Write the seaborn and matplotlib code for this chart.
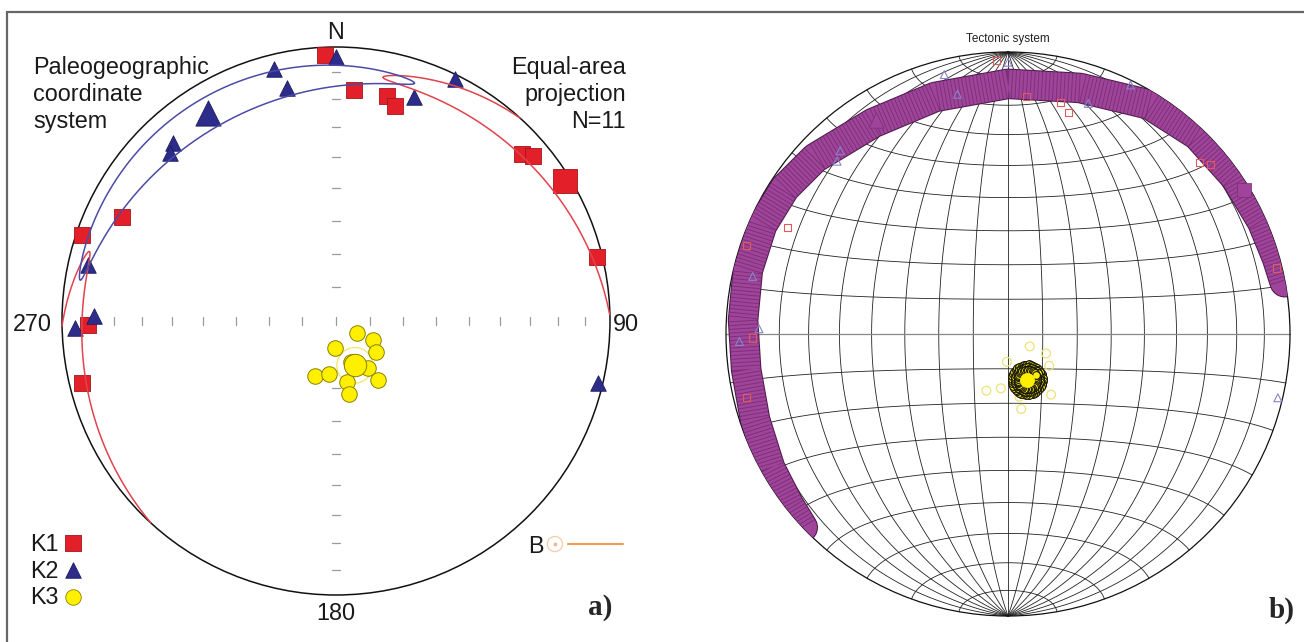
# AMS stereoplots: (a) equal-area net with confidence ellipses, (b) bootstrap on a Schmidt net
import numpy as np
import pandas as pd
import seaborn as sns
import matplotlib.pyplot as plt
import matplotlib.patheffects as pe
from matplotlib.lines import Line2D
from matplotlib.patches import Circle

# principal susceptibility axes of the 11 specimens, trend / plunge in degrees
k1_trend = [357.6, 4.5, 12.8, 15.3, 48.1, 50.1, 76.2, 295.9, 288.7, 269.1, 256.3]
k1_plunge = [3.2, 16.5, 16.9, 19.7, 9.7, 7.0, 2.1, 14.3, 2.4, 10.4, 5.2]
k2_trend = [0.0, 346.2, 348.1, 19.2, 26.2, 317.5, 315.3, 282.7, 271.2, 268.4, 103.3]
k2_plunge = [4.1, 5.9, 14.2, 14.5, 1.8, 12.9, 14.9, 8.0, 12.7, 5.3, 1.9]
k3_trend = [119.7, 182.3, 117.1, 127.7, 145.8, 200.9, 187.5, 169.8, 144.6, 170.0, 160.0]
k3_plunge = [82.8, 82.0, 77.7, 75.0, 73.1, 72.5, 74.2, 71.6, 68.5, 68.0, 77.0]

# mean tensor axes K1, K2, K3
mean_trend = [58.6, 328.4, 157.0]
mean_plunge = [2.3, 11.9, 75.7]

# 95% confidence ellipses (long, short semi-axis, degrees)
conf_axes = [(48, 6), (49, 6), (5.3, 5.3)]

# bootstrap K1/K2 girdle in panel b, centre line
girdle_trend = [226.7, 232.0, 240.6, 251.2, 262.2, 273.0, 283.8, 293.9, 303.2, 312.4,
                327.4, 342.9, 0.0, 16.3, 31.6, 43.6, 55.5, 66.2, 74.2, 79.4]
girdle_plunge = [0.0, 1.7, 3.6, 5.9, 7.0, 6.6, 5.6, 5.2, 6.1, 8.2,
                 12.2, 13.1, 12.3, 10.0, 5.0, 3.0, 2.4, 1.7, 1.0, 0.2]
# bootstrap K3 cones (degrees)
k3_boot_radii = [4.4, 3.6, 2.8]

RED, RED_E = '#E3202A', '#A3141B'
NAVY, NAVY_E = '#2D2C8A', '#1C1B5E'
YEL, YEL_E = '#FFF000', '#8A8000'
MAG = '#A0449B'


def to_vec(trend, plunge):
    t = np.radians(np.asarray(trend, float))
    p = np.radians(np.asarray(plunge, float))
    return np.array([np.cos(p) * np.cos(t), np.cos(p) * np.sin(t), np.sin(p)])


def proj_vec(v):
    # lower-hemisphere equal-area (Schmidt), unit primitive
    n, e, d = v
    s = np.where(d < 0, -1.0, 1.0)
    n, e, d = n * s, e * s, d * s
    k = 1 / np.sqrt(1 + d)
    return e * k, n * k


def project(trend, plunge):
    return proj_vec(to_vec(trend, plunge))


def cone_xy(i, j, a, b, n=721):
    m = to_vec(mean_trend[i], mean_plunge[i])
    u = to_vec(mean_trend[j], mean_plunge[j])
    u = u - m * np.dot(m, u)
    u /= np.linalg.norm(u)
    w = np.cross(m, u)
    phi = np.linspace(0, 2 * np.pi, n)
    pts = (m[:, None] + np.tan(np.radians(a) * np.cos(phi)) * u[:, None]
           + np.tan(np.radians(b) * np.sin(phi)) * w[:, None])
    pts /= np.linalg.norm(pts, axis=0)
    x, y = proj_vec(pts)
    lower = pts[2] >= 0
    brk = np.where(lower[1:] != lower[:-1])[0] + 1
    return np.insert(x, brk, np.nan), np.insert(y, brk, np.nan)


def xy_frame(trend, plunge):
    x, y = project(trend, plunge)
    return pd.DataFrame({'x': np.atleast_1d(x), 'y': np.atleast_1d(y)})


W, H = 1304, 642
fig = plt.figure(figsize=(W / 100, H / 100), dpi=100)
sns.set_style('white')
plt.rcParams['font.family'] = ['Liberation Sans', 'DejaVu Sans']


def panel(cx, cy, R, m):
    ax = fig.add_axes([(cx - m * R) / W, (H - cy - m * R) / H, 2 * m * R / W, 2 * m * R / H])
    ax.set_xlim(-m, m)
    ax.set_ylim(-m, m)
    ax.axis('off')
    return ax


ax1 = panel(336, 321, 274, 1.2)
ax2 = panel(1008, 334, 282, 1.15)

# figure frame
fig.add_artist(Line2D([7 / W, 1], [1 - 12 / H] * 2, transform=fig.transFigure, color='#666666', lw=1.6))
fig.add_artist(Line2D([7 / W] * 2, [0, 1 - 12 / H], transform=fig.transFigure, color='#666666', lw=1.6))

# ---------------- panel a ----------------
ax1.add_patch(Circle((0, 0), 1, fill=False, ec='#111111', lw=1.1, zorder=2))
tick_pl = np.arange(80, -1, -10)
for tr in (0, 90, 180, 270):
    tx, ty = project(np.full(len(tick_pl), tr), tick_pl)
    for x, y in zip(tx[:-1], ty[:-1]):
        if tr in (90, 270):
            ax1.plot([x, x], [y - 0.013, y + 0.013], color='#9a9a9a', lw=0.9, zorder=1)
        else:
            ax1.plot([x - 0.013, x + 0.013], [y, y], color='#9a9a9a', lw=0.9, zorder=1)
ax1.plot([0, 0], [-0.013, 0.013], color='#9a9a9a', lw=0.9)

sns.scatterplot(data=xy_frame(k1_trend, k1_plunge), x='x', y='y', marker='s', s=125,
                color=RED, edgecolor=RED_E, linewidth=0.6, ax=ax1, zorder=4, legend=False)
sns.scatterplot(data=xy_frame(mean_trend[0], mean_plunge[0]), x='x', y='y', marker='s', s=290,
                color=RED, edgecolor=RED_E, linewidth=0.6, ax=ax1, zorder=4, legend=False)
sns.scatterplot(data=xy_frame(k2_trend, k2_plunge), x='x', y='y', marker='^', s=125,
                color=NAVY, edgecolor=NAVY_E, linewidth=0.6, ax=ax1, zorder=5, legend=False)
sns.scatterplot(data=xy_frame(mean_trend[1], mean_plunge[1]), x='x', y='y', marker='^', s=330,
                color=NAVY, edgecolor=NAVY_E, linewidth=0.6, ax=ax1, zorder=5, legend=False)

ex, ey = cone_xy(0, 1, *conf_axes[0])
ax1.plot(ex, ey, color='#E2434C', lw=1.1, zorder=6)
ex, ey = cone_xy(1, 0, *conf_axes[1])
ax1.plot(ex, ey, color='#4B4BA6', lw=1.1, zorder=6)
ex, ey = cone_xy(2, 0, *conf_axes[2])
ax1.plot(ex, ey, color='#F2E86E', lw=1.0, zorder=3)

sns.scatterplot(data=xy_frame(k3_trend, k3_plunge), x='x', y='y', marker='o', s=125,
                color=YEL, edgecolor=YEL_E, linewidth=0.7, ax=ax1, zorder=7, legend=False)
sns.scatterplot(data=xy_frame(mean_trend[2], mean_plunge[2]), x='x', y='y', marker='o', s=260,
                color=YEL, edgecolor=YEL_E, linewidth=0.7, ax=ax1, zorder=8, legend=False)

txt = dict(fontsize=16.8, color='#1a1a1a')
for k, line in enumerate(['Paleogeographic', 'coordinate', 'system']):
    ax1.text(-1.106, 0.901 - 0.099 * k, line, ha='left', va='baseline', **txt)
for k, line in enumerate(['Equal-area', 'projection', 'N=11']):
    ax1.text(1.058, 0.901 - 0.099 * k, line, ha='right', va='baseline', **txt)
ax1.text(0, 1.030, 'N', ha='center', va='baseline', **txt)
ax1.text(-1.036, -0.036, '270', ha='right', va='baseline', **txt)
ax1.text(1.011, -0.036, '90', ha='left', va='baseline', **txt)
ax1.text(0, -1.091, '180', ha='center', va='baseline', **txt)

# legend
for k, (lab, mk, fc, ec) in enumerate([('K1', 's', RED, RED_E), ('K2', '^', NAVY, NAVY_E),
                                        ('K3', 'o', YEL, YEL_E)]):
    yy = -0.816 - 0.097 * k
    ax1.text(-1.117, yy, lab, ha='left', va='center', **txt)
    ax1.scatter(-0.960, yy + 0.004, marker=mk, s=125, color=fc, edgecolor=ec, lw=0.6, zorder=5)
ax1.text(0.730, -0.822, 'B', ha='center', va='center', **txt)
ax1.scatter(0.799, -0.814, marker='o', s=120, facecolor='none', edgecolor='#F5CBAA', lw=0.9)
ax1.scatter(0.799, -0.814, marker='o', s=3, color='#F2B48A')
ax1.plot([0.847, 1.047], [-0.814, -0.814], color='#F29A52', lw=1.5)
ax1.text(0.964, -1.047, 'a)', ha='center', va='center', fontsize=21, fontweight='bold',
         family='Liberation Serif')

# ---------------- panel b ----------------
t = np.linspace(-90, 90, 361)
for lon in range(-80, 81, 10):
    la, lo = np.radians(t), np.radians(lon)
    v = np.cos(la) * np.cos(lo)
    ax2.plot(np.cos(la) * np.sin(lo) / np.sqrt(1 + v), np.sin(la) / np.sqrt(1 + v),
             color='#222222', lw=0.6, zorder=1)
for lat in range(-80, 81, 10):
    la, lo = np.radians(lat), np.radians(t)
    v = np.cos(la) * np.cos(lo)
    ax2.plot(np.cos(la) * np.sin(lo) / np.sqrt(1 + v), np.sin(la) / np.sqrt(1 + v),
             color='#888888' if lat == 0 else '#222222', lw=0.9 if lat == 0 else 0.6, zorder=1)
ax2.add_patch(Circle((0, 0), 1, fill=False, ec='#111111', lw=0.9, zorder=2))

gx, gy = project(girdle_trend, girdle_plunge)
clip = Circle((0, 0), 1, transform=ax2.transData)
band, = ax2.plot(gx, gy, color=MAG, lw=20.5, solid_capstyle='round', solid_joinstyle='round', zorder=3,
                 path_effects=[pe.Stroke(linewidth=22, foreground='#4E1A4C'), pe.Normal()])
band.set_clip_path(clip)
stripes, = ax2.plot(gx, gy, color='#4E1A4C', lw=20.5, dashes=(0.7 / 20.5, 2.0 / 20.5), alpha=0.45,
                    zorder=3.1)
stripes.set_clip_path(clip)

sns.scatterplot(data=xy_frame(k1_trend, k1_plunge), x='x', y='y', marker='s', s=26,
                color='none', edgecolor='#E05A5A', linewidth=0.8, ax=ax2, zorder=4, legend=False)
sns.scatterplot(data=xy_frame(k2_trend, k2_plunge), x='x', y='y', marker='^', s=32,
                color='none', edgecolor='#8585C5', linewidth=0.8, ax=ax2, zorder=4, legend=False)
sns.scatterplot(data=xy_frame(k3_trend, k3_plunge), x='x', y='y', marker='o', s=40,
                color='none', edgecolor='#EEE27A', linewidth=0.9, ax=ax2, zorder=4, legend=False)

sns.scatterplot(data=xy_frame(mean_trend[0], mean_plunge[0]), x='x', y='y', marker='s', s=95,
                color=MAG, edgecolor='#7A2D76', linewidth=0.5, ax=ax2, zorder=5, legend=False)
sns.scatterplot(data=xy_frame(mean_trend[1], mean_plunge[1]), x='x', y='y', marker='^', s=120,
                color=MAG, edgecolor='#7A2D76', linewidth=0.5, ax=ax2, zorder=5, legend=False)
for r in k3_boot_radii:
    cx, cy = cone_xy(2, 0, r, r, n=41)
    ax2.plot(cx, cy, ls='none', marker='o', ms=5.6, mfc=YEL, mec='#111111', mew=0.8, zorder=5)
sns.scatterplot(data=xy_frame(mean_trend[2], mean_plunge[2]), x='x', y='y', marker='o', s=105,
                color=YEL, edgecolor=YEL, linewidth=0.5, ax=ax2, zorder=6, legend=False)

ax2.text(0, 1.035, 'Tectonic system', ha='center', va='baseline', fontsize=8.5, color='#222222')
ax2.text(0.972, -0.979, 'b)', ha='center', va='center', fontsize=21, fontweight='bold',
         family='Liberation Serif')

fig.savefig('out.png', dpi=100)
